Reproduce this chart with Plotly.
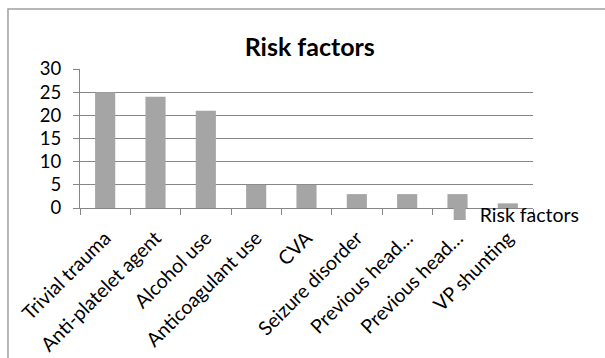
import plotly.graph_objects as go

# Risk factor counts
categories = [
    "Trivial trauma",
    "Anti-platelet agent",
    "Alcohol use",
    "Anticoagulant use",
    "CVA",
    "Seizure disorder",
    "Previous head injury",
    "Previous head surgery",
    "VP shunting",
]
tick_labels = [
    "Trivial trauma",
    "Anti-platelet agent",
    "Alcohol use",
    "Anticoagulant use",
    "CVA",
    "Seizure disorder",
    "Previous head…",
    "Previous head…",
    "VP shunting",
]
counts = [25, 24, 21, 5, 5, 3, 3, 3, 1]
y_ticks = [0, 5, 10, 15, 20, 25, 30]

FONT = "Lato"
GRID = "#868686"

fig = go.Figure(
    go.Bar(
        x=categories,
        y=counts,
        name="Risk factors",
        marker=dict(color="#A5A5A5", line=dict(width=0)),
        width=0.4,
        showlegend=True,
    )
)

fig.update_layout(
    width=605,
    height=358,
    margin=dict(l=80, r=72, t=69, b=150),
    paper_bgcolor="white",
    plot_bgcolor="white",
    font=dict(family=FONT, size=18, color="black"),
    title=dict(
        text="Risk factors",
        font=dict(family=FONT, size=25, color="black", weight="bold"),
        x=0.512,
        xanchor="center",
        y=0.869,
        yanchor="middle",
    ),
    showlegend=True,
    legend=dict(
        x=0.794,
        xanchor="left",
        y=-0.045,
        yanchor="middle",
        bgcolor="rgba(255,255,255,0)",
        borderwidth=0,
        itemwidth=30,
        font=dict(family=FONT, size=19.5, color="black"),
    ),
    bargap=0.6,
)

fig.update_xaxes(
    type="category",
    categoryorder="array",
    categoryarray=categories,
    tickmode="array",
    tickvals=categories,
    ticktext=tick_labels,
    tickangle=-45,
    tickson="boundaries",
    ticks="outside",
    ticklen=6,
    tickcolor=GRID,
    showline=True,
    linecolor=GRID,
    linewidth=1,
    showgrid=False,
    automargin=False,
    ticklabelstandoff=10,
    tickfont=dict(family=FONT, size=19.5, color="black"),
)

fig.update_yaxes(
    range=[0, 30],
    tickmode="array",
    tickvals=y_ticks,
    ticks="outside",
    ticklen=6,
    tickcolor=GRID,
    showline=True,
    linecolor=GRID,
    linewidth=1,
    showgrid=True,
    gridcolor=GRID,
    gridwidth=1,
    zeroline=False,
    automargin=False,
    ticklabelstandoff=8,
    tickfont=dict(family=FONT, size=18.5, color="black"),
)

# Chart-area border
fig.add_shape(
    type="rect",
    xref="paper",
    yref="paper",
    x0=-0.159,
    x1=1.2,
    y0=-1.2,
    y1=1.432,
    line=dict(color="#A0A0A0", width=1.5),
    fillcolor="rgba(0,0,0,0)",
    layer="below",
)

fig.write_html("out.html")
